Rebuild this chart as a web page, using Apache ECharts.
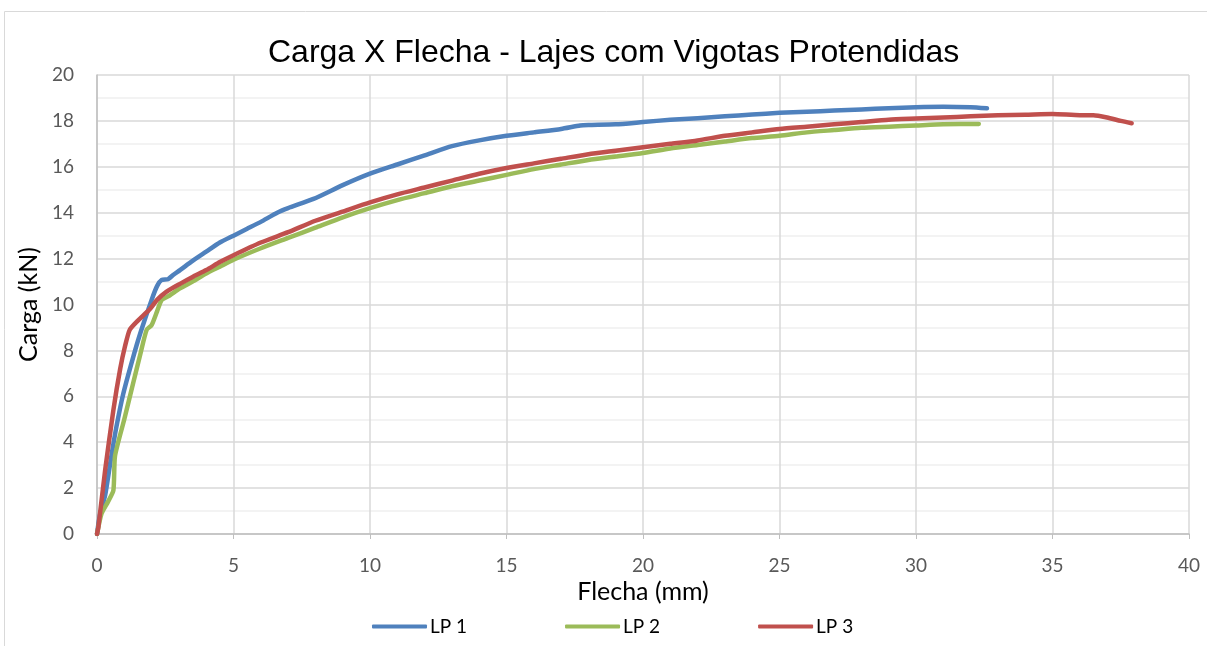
<!DOCTYPE html>
<html><head><meta charset="utf-8">
<script src="https://cdn.jsdelivr.net/npm/echarts@6/dist/echarts.min.js"></script>
<style>html,body{margin:0;padding:0;background:#fff}#c{width:1207px;height:646px}</style>
</head><body><div id="c"></div>
<script>
const titleText = 'Carga X Flecha - Lajes com Vigotas Protendidas';
const xName = 'Flecha (mm)';
const yName = 'Carga (kN)';
const seriesNames = ['LP 1', 'LP 2', 'LP 3'];
const lp1 = [[0,0],[0.1,0.8],[0.3,1.7],[0.5,3.2],[0.7,4.6],[0.96,6.1],[1.3,7.6],[1.6,8.8],[2.0,10.2],[2.2,10.8],[2.37,11.07],[2.6,11.1],[2.8,11.3],[3.04,11.5],[3.5,11.9],[4,12.3],[4.5,12.7],[5,13.0],[5.5,13.3],[6,13.6],[6.6,14.0],[7,14.2],[7.93,14.6],[9,15.2],[10,15.7],[11,16.1],[12,16.5],[13,16.9],[14,17.15],[15,17.35],[16,17.5],[17,17.65],[17.7,17.8],[18,17.82],[19,17.85],[20,17.95],[21,18.05],[22,18.12],[23,18.2],[24,18.28],[25,18.35],[26,18.4],[27,18.45],[28,18.5],[29,18.55],[30,18.6],[31,18.62],[32,18.6],[32.6,18.55]];
const lp2 = [[0,0],[0.17,0.9],[0.4,1.4],[0.6,1.9],[0.66,3.4],[1.0,5.0],[1.33,6.6],[1.6,7.9],[1.82,8.9],[2.0,9.1],[2.2,9.7],[2.37,10.2],[2.6,10.35],[3.04,10.7],[3.5,11.0],[4,11.35],[4.5,11.65],[5,11.95],[6,12.45],[7,12.9],[8,13.35],[9,13.8],[10,14.2],[11,14.55],[12,14.85],[13,15.15],[14,15.4],[15,15.65],[16,15.9],[17,16.1],[18,16.3],[19,16.45],[20,16.6],[21,16.8],[22,16.95],[23,17.1],[24,17.25],[25,17.35],[26,17.5],[27,17.6],[28,17.7],[29,17.75],[30,17.8],[31,17.85],[32.3,17.87]];
const lp3 = [[0,0],[0.05,0.3],[0.3,2.8],[0.6,5.4],[0.85,7.2],[1.03,8.2],[1.2,8.9],[1.5,9.3],[1.94,9.8],[2.2,10.2],[2.55,10.56],[3.04,10.9],[3.5,11.2],[4,11.5],[4.5,11.85],[5,12.15],[6,12.7],[7,13.15],[8,13.65],[9,14.05],[10,14.45],[11,14.8],[12,15.1],[13,15.4],[14,15.7],[15,15.95],[16,16.15],[17,16.35],[18,16.55],[19,16.7],[20,16.85],[21,17.0],[22,17.15],[23,17.35],[24,17.5],[25,17.65],[26,17.75],[27,17.85],[28,17.95],[29,18.05],[30,18.1],[31,18.15],[32,18.2],[33,18.25],[34,18.27],[35,18.3],[36,18.25],[36.5,18.25],[37,18.15],[37.5,18.0],[37.9,17.9]];
const colors = ['#4f81bd', '#9bbb59', '#c0504d'];

const chart = echarts.init(document.getElementById('c'), null, {renderer: 'canvas'});
const tFont = 'Liberation Sans';
const font = 'Lato';
const mk = (name, data, color) => ({
  name, type: 'line', data, showSymbol: false, symbol: 'none', smooth: 0.2,
  lineStyle: {color, width: 4.5, cap: 'round', join: 'round'}, itemStyle: {color}
});
chart.setOption({
  animation: false,
  graphic: [{type: 'rect', shape: {x: 4.5, y: 11.5, width: 1210, height: 700},
    style: {fill: 'none', stroke: '#d9d9d9', lineWidth: 1}, z: -1}],
  title: {text: titleText, left: 263, top: 32,
    textStyle: {fontFamily: tFont, fontSize: 32, fontWeight: 'normal', color: '#000'}},
  grid: {left: 97, right: 18, top: 75, bottom: 112, containLabel: false},
  legend: {data: seriesNames, left: 367, top: 612, itemWidth: 55, itemHeight: 4, itemGap: 98,
    icon: 'roundRect', textStyle: {fontFamily: font, fontSize: 19, color: '#000', padding: [0,0,0,-2]}},
  xAxis: {type: 'value', min: 0, max: 40, interval: 5, name: xName, nameLocation: 'middle', nameGap: 44,
    nameTextStyle: {fontFamily: font, fontSize: 25, color: '#000'},
    axisLine: {show: true, lineStyle: {color: '#bfbfbf', width: 1.5}},
    axisTick: {show: true, length: 5, lineStyle: {color: '#bfbfbf'}},
    axisLabel: {fontFamily: font, fontSize: 19, color: '#595959', margin: 22},
    splitLine: {show: true, lineStyle: {color: '#d9d9d9', width: 1.5}}},
  yAxis: {type: 'value', min: 0, max: 20, interval: 2, name: yName, nameLocation: 'middle', nameGap: 52,
    nameTextStyle: {fontFamily: font, fontSize: 25, color: '#000'},
    axisLine: {show: true, lineStyle: {color: '#bfbfbf', width: 1.5}},
    axisTick: {show: false},
    minorTick: {show: false, splitNumber: 2},
    minorSplitLine: {show: true, lineStyle: {color: '#f0f0f0', width: 1.5}},
    axisLabel: {fontFamily: font, fontSize: 19, color: '#595959', margin: 23},
    splitLine: {show: true, lineStyle: {color: '#d9d9d9', width: 1.5}}},
  series: [mk(seriesNames[0], lp1, colors[0]), mk(seriesNames[1], lp2, colors[1]), mk(seriesNames[2], lp3, colors[2])]
});
</script></body></html>
